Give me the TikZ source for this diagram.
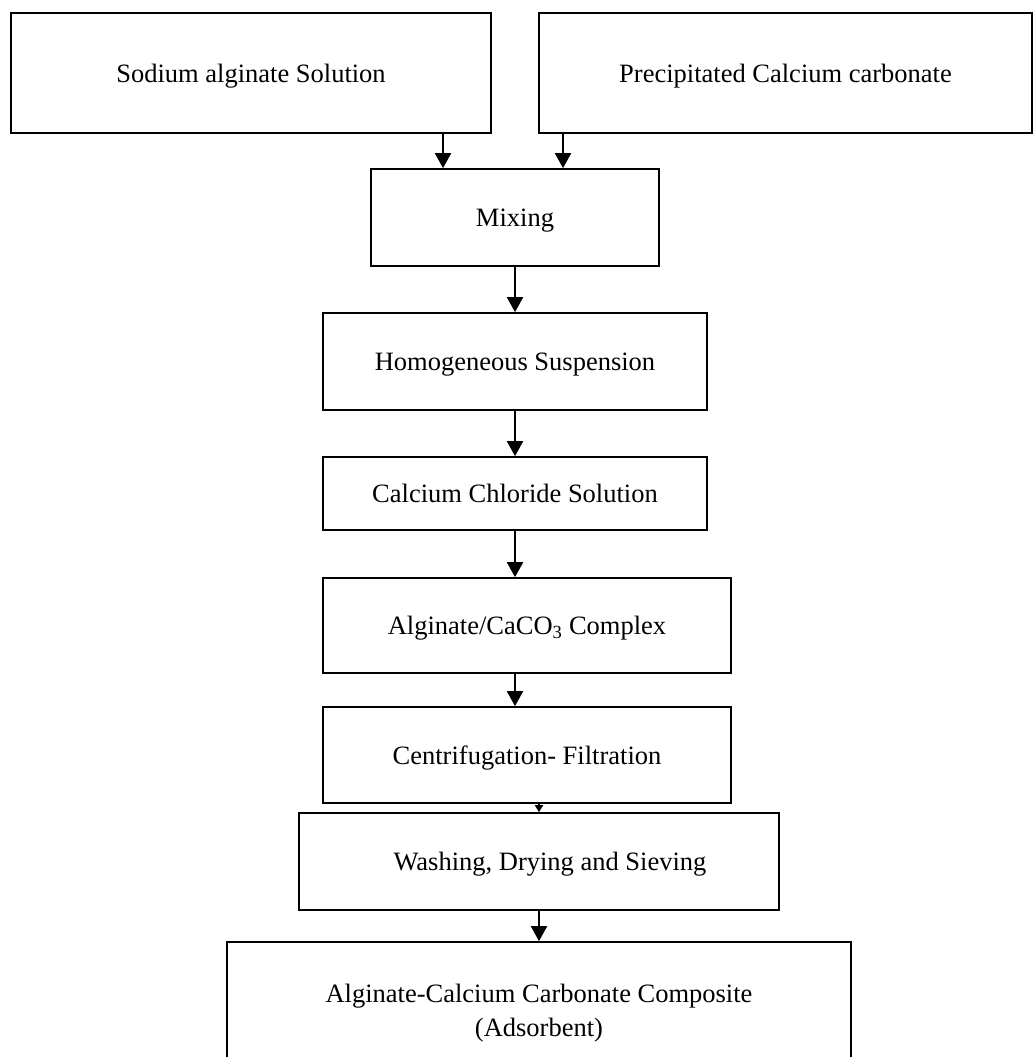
\documentclass[tikz,border=0pt]{standalone}
\usepackage{fontspec}
\setmainfont{Liberation Serif}
\usetikzlibrary{positioning}
\usetikzlibrary{arrows.meta}

\begin{document}
\begin{tikzpicture}[x=1pt,y=-1pt,
		box/.style={draw,rectangle,line width=1.7pt,inner sep=0pt,align=center,text depth=0pt,
			font=\fontsize{26.5}{34}\selectfont},
		flow/.style={line width=2pt,-{Triangle[width=16pt,length=15pt]}},
		smallflow/.style={line width=2pt,-{Triangle[width=8pt,length=7pt]}}]
			\useasboundingbox (0,0) rectangle (1034,1057);
			\clip (0,0) rectangle (1034,1057);
			% draw boxes
			\node[box,minimum width=480,minimum height=120] (sodium) at (251,73) {Sodium alginate Solution};
			\node[box,minimum width=493,minimum height=120] (precip) at (785.5,73) {Precipitated Calcium carbonate};
			\node[box,minimum width=288,minimum height=97] (mixing) at (515,217.5) {Mixing};
			\node[box,minimum width=384,minimum height=97] (homog) at (515,361.5) {Homogeneous Suspension};
			\node[box,minimum width=384,minimum height=73] (cacl) at (515,493.5) {Calcium Chloride Solution};
			\node[box,minimum width=408,minimum height=95] (complex) at (527,625.5) {Alginate/CaCO\textsubscript{3} Complex};
			\node[box,minimum width=408,minimum height=96] (centri) at (527,755) {Centrifugation- Filtration};
			\node[box,minimum width=480,minimum height=97] (washing) at (539,861.5) {\hspace*{22pt}Washing, Drying and Sieving};
			\node[box,minimum width=624,minimum height=136] (product) at (539,1010) {Alginate-Calcium Carbonate Composite\\(Adsorbent)};
			% arrow positions
			\coordinate (lin) at (443,0);
			\coordinate (rin) at (563,0);
			% add arrows
			\draw[flow] (sodium.south -| lin) -- (mixing.north -| lin);
			\draw[flow] (precip.south -| rin) -- (mixing.north -| rin);
			\draw[flow] (mixing) -- (homog);
			\draw[flow] (homog) -- (cacl);
			\draw[flow] (cacl.south) -- (complex.north -| cacl.south);
			\draw[flow] (complex.south -| cacl.south) -- (centri.north -| cacl.south);
			\draw[smallflow] (centri.south -| washing.north) -- (washing.north);
			\draw[flow] (washing) -- (product);
		\end{tikzpicture}
\end{document}
